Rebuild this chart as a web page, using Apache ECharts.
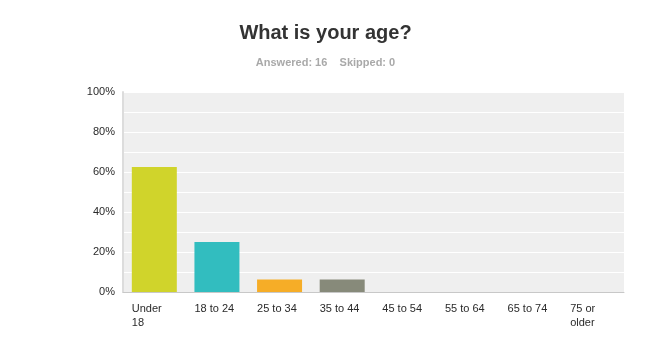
<!DOCTYPE html>
<html>
<head>
<meta charset="utf-8">
<script src="https://cdn.jsdelivr.net/npm/echarts@6/dist/echarts.min.js"></script>
<style>
  html, body { margin: 0; padding: 0; background: #fff; }
  #chart { width: 651px; height: 351px; }
</style>
</head>
<body>
<div id="chart"></div>
<script>
const categories = ["Under\n18", "18 to 24", "25 to 34", "35 to 44", "45 to 54", "55 to 64", "65 to 74", "75 or\nolder"];
const shares = [0.625, 0.25, 0.0625, 0.0625, 0, 0, 0, 0];
const barColors = ["#d0d42b", "#32bdbf", "#f6ad27", "#878a7a", "#d0d42b", "#32bdbf", "#f6ad27", "#878a7a"];

const chart = echarts.init(document.getElementById("chart"), null, { renderer: "canvas" });

chart.setOption({
  animation: false,
  textStyle: { fontFamily: "Liberation Sans, Arial, sans-serif" },
  title: [
    {
      text: "What is your age?",
      left: "center",
      top: 18,
      textStyle: { fontSize: 20, fontWeight: "bold", color: "#333" }
    },
    {
      text: "Answered: 16    Skipped: 0",
      left: "center",
      top: 52,
      textStyle: { fontSize: 11, fontWeight: "bold", color: "#a9a9a9" }
    }
  ],
  grid: {
    left: 123,
    right: 27,
    top: 92,
    bottom: 59,
    show: true,
    backgroundColor: "#efefef",
    borderWidth: 0
  },
  xAxis: {
    type: "category",
    data: categories,
    axisLine: { show: true, lineStyle: { color: "#c8c8c8" } },
    axisTick: { show: false },
    axisLabel: {
      interval: 0,
      margin: 10,
      align: "center",
      formatter: (v) => v.split("\n").map((s) => "{a|" + s + "}").join("\n"),
      rich: {
        a: { width: 45, align: "left", fontSize: 11, color: "#2a2a2a", lineHeight: 14, fontFamily: "Liberation Sans, Arial, sans-serif" }
      }
    }
  },
  yAxis: {
    type: "value",
    min: 0,
    max: 1,
    interval: 0.1,
    axisLine: { show: true, lineStyle: { color: "#dcdcdc", width: 2 } },
    axisTick: { show: false },
    axisLabel: {
      fontSize: 11,
      color: "#2a2a2a",
      margin: 8,
      formatter: (v) => {
        const t = Math.round(v * 10);
        return t % 2 === 0 ? t * 10 + "%" : "";
      }
    },
    splitLine: { show: true, lineStyle: { color: "#ffffff", width: 1 } }
  },
  series: [
    {
      type: "bar",
      data: shares.map((v, i) => ({ value: v, itemStyle: { color: barColors[i] } })),
      barWidth: 45
    }
  ]
});
</script>
</body>
</html>
